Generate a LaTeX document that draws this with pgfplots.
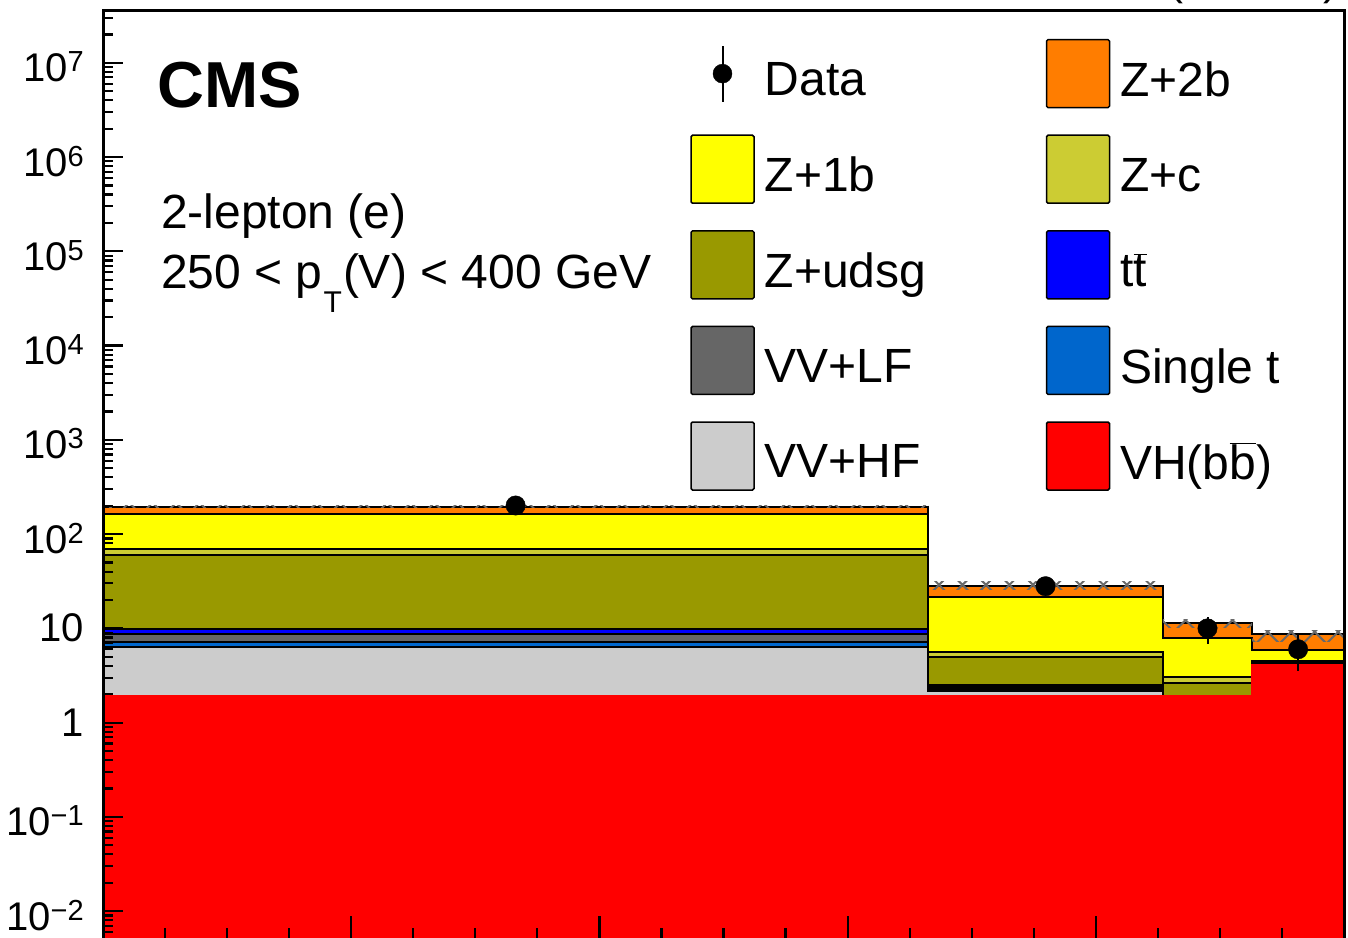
\documentclass[border=0pt]{standalone}
\usepackage{fontspec}
\setmainfont{Liberation Sans}
\usepackage{pgfplots}
\pgfplotsset{compat=1.18}
\usetikzlibrary{patterns.meta}

\definecolor{czbb}{RGB}{255,125,0}
\definecolor{czb}{RGB}{255,255,0}
\definecolor{czc}{RGB}{204,204,51}
\definecolor{czl}{RGB}{153,153,0}
\definecolor{ctt}{RGB}{0,0,255}
\definecolor{cst}{RGB}{0,102,204}
\definecolor{cvvlf}{RGB}{102,102,102}
\definecolor{cvvhf}{RGB}{204,204,204}
\definecolor{cvh}{RGB}{255,0,0}
\definecolor{cunc}{RGB}{105,105,105}

\newcommand{\ovl}[1]{\ensuremath{\overline{\hbox{#1}}}}
\newcommand{\pw}[1]{\raisebox{-5.5pt}{10\raisebox{10pt}{\fontsize{29}{29}\selectfont #1}}}
\newcommand{\lt}[1]{\makebox[271pt][l]{#1}}

\pgfplotsset{
  boxleg/.style={legend image code/.code={%
    \draw[fill=#1, draw=black, line width=1.5pt, rounded corners=1.5pt]
      (0pt,-27.9pt) rectangle (63pt,40.1pt);}},
  datleg/.style={legend image code/.code={%
    \draw[line width=2pt] (31.5pt,-21.9pt) -- (31.5pt,34.1pt);
    \fill (31.5pt,6.1pt) circle[radius=9.5pt];}},
  stk/.style={const plot, fill=#1, draw=black, line width=2pt, forget plot},
  unc/.style={draw=none, forget plot, pattern color=cunc,
    pattern={Hatch[angle=45,distance=16.6pt,line width=2pt]}},
}

\begin{document}
\begin{tikzpicture}
\begin{axis}[
  at={(103pt,-939.5pt)}, anchor=south west,
  width=1241pt, height=929.5pt, scale only axis,
  xmin=0, xmax=1, ymode=log, ymin=0.005, ymax=3.63e7,
  axis on top,
  axis line style={line width=3pt},
  tick style={black, line width=2.2pt},
  tick align=inside, tick pos=left,
  major tick length=20pt, minor tick length=10pt,
  xtick style={/pgfplots/major tick length=23.5pt, /pgfplots/minor tick length=11.5pt},
  xtick={0,0.2,0.4,0.6,0.8,1},
  minor xtick={0.05,0.1,0.15,0.25,0.3,0.35,0.45,0.5,0.55,0.65,0.7,0.75,0.85,0.9,0.95},
  xticklabels={},
  ytick={1e-2,1e-1,1,10,100,1000,1e4,1e5,1e6,1e7},
  yticklabels={\pw{−2},\pw{−1},1\hspace{-9pt},10,\pw{2},\pw{3},\pw{4},\pw{5},\pw{6},\pw{7}},
  minor ytick={5e-3,6e-3,7e-3,8e-3,9e-3,
    2e-2,3e-2,4e-2,5e-2,6e-2,7e-2,8e-2,9e-2,
    0.2,0.3,0.4,0.5,0.6,0.7,0.8,0.9,
    2,3,4,5,6,7,8,9,
    20,30,40,50,60,70,80,90,
    200,300,400,500,600,700,800,900,
    2000,3000,4000,5000,6000,7000,8000,9000,
    2e4,3e4,4e4,5e4,6e4,7e4,8e4,9e4,
    2e5,3e5,4e5,5e5,6e5,7e5,8e5,9e5,
    2e6,3e6,4e6,5e6,6e6,7e6,8e6,9e6,
    2e7,3e7},
  yticklabel style={font=\fontsize{40}{40}\selectfont, anchor=base east,
    inner sep=0pt, xshift=-19pt, yshift=-13.5pt},
  legend columns=2,
  legend cell align=left,
  legend style={at={(axis description cs:0.4732,0.96894)}, anchor=north west,
    draw=none, fill=none, inner sep=0pt, outer sep=0pt,
    row sep=26.1pt, column sep=10pt,
    font=\fontsize{48}{48}\selectfont,
    nodes={inner sep=0pt}},
]

% legend (row by row, two columns)
\addlegendimage{datleg}\addlegendentry{\lt{Data}}
\addlegendimage{boxleg=czbb}\addlegendentry{\lt{Z+2b}}
\addlegendimage{boxleg=czb}\addlegendentry{\lt{Z+1b}}
\addlegendimage{boxleg=czc}\addlegendentry{\lt{Z+c}}
\addlegendimage{boxleg=czl}\addlegendentry{\lt{Z+udsg}}
\addlegendimage{boxleg=ctt}\addlegendentry{\lt{t\ovl{t}}}
\addlegendimage{boxleg=cvvlf}\addlegendentry{\lt{VV+LF}}
\addlegendimage{boxleg=cst}\addlegendentry{\lt{Single t}}
\addlegendimage{boxleg=cvvhf}\addlegendentry{\lt{VV+HF}}
\addlegendimage{boxleg=cvh}\addlegendentry{\lt{VH(b\ovl{b})}}

% stacked histograms, cumulative, drawn from the top down
\addplot[stk=czbb] coordinates {(0,0.004) (0,196) (0.665,28.3) (0.854,11.4) (0.926,8.8) (1,8.8) (1,0.004)} -- cycle;
\addplot[stk=czb] coordinates {(0,0.004) (0,165) (0.665,21.3) (0.854,7.84) (0.926,5.95) (1,5.95) (1,0.004)} -- cycle;
\addplot[stk=czc] coordinates {(0,0.004) (0,69.0) (0.665,5.64) (0.854,3.02) (0.926,4.50) (1,4.50) (1,0.004)} -- cycle;
\addplot[stk=czl] coordinates {(0,0.004) (0,60.0) (0.665,4.99) (0.854,2.63) (0.926,4.30) (1,4.30) (1,0.004)} -- cycle;
\addplot[stk=ctt] coordinates {(0,0.004) (0,9.77) (0.665,2.48) (0.854,1.90) (0.926,4.15) (1,4.15) (1,0.004)} -- cycle;
\addplot[stk=cvvlf] coordinates {(0,0.004) (0,8.71) (0.665,2.36) (0.854,1.90) (0.926,4.10) (1,4.10) (1,0.004)} -- cycle;
\addplot[stk=cst] coordinates {(0,0.004) (0,7.21) (0.665,2.27) (0.854,1.90) (0.926,4.08) (1,4.08) (1,0.004)} -- cycle;
\addplot[stk=cvvhf] coordinates {(0,0.004) (0,6.29) (0.665,2.14) (0.854,1.90) (0.926,4.08) (1,4.08) (1,0.004)} -- cycle;
\addplot[stk=cvh, draw=cvh] coordinates {(0,0.004) (0,1.90) (0.665,1.90) (0.854,1.90) (0.926,4.08) (1,4.08) (1,0.004)} -- cycle;

% uncertainty band
\addplot[unc] coordinates {(0,190) (0.665,190) (0.665,203) (0,203)} -- cycle;
\addplot[unc] coordinates {(0.665,25.6) (0.854,25.6) (0.854,31.2) (0.665,31.2)} -- cycle;
\addplot[unc] coordinates {(0.854,10.26) (0.926,10.26) (0.926,12.47) (0.854,12.47)} -- cycle;
\addplot[unc] coordinates {(0.926,7.21) (1,7.21) (1,9.6) (0.926,9.6)} -- cycle;

% data
\addplot[forget plot, only marks, mark=*, mark size=9.7pt, black,
  error bars/.cd, y dir=both, y explicit, error mark=none,
  error bar style={line width=2pt}]
  coordinates {
  (0.3325,201) +- (0,14.2)
  (0.7595,28) +- (0,5.3)
  (0.89,10) +- (0,3.16)
  (0.963,6) +- (0,2.45)
  };
\end{axis}

\node[anchor=base west, inner sep=0pt, font=\fontsize{65}{65}\selectfont\bfseries]
  at (157pt,-107.5pt) {CMS};
\node[anchor=base west, inner sep=0pt, font=\fontsize{48}{48}\selectfont]
  at (161pt,-228.3pt) {2-lepton (e)};
\node[anchor=base west, inner sep=0pt, font=\fontsize{48}{48}\selectfont]
  at (161pt,-288.3pt) {250 < p\hspace{1pt}\raisebox{-24.5pt}{\fontsize{30}{30}\selectfont T}\hspace{1pt}(V) < 400 GeV};
\node[anchor=base east, inner sep=0pt, font=\fontsize{45}{45}\selectfont]
  at (1339pt,6pt) {35.9 fb\textsuperscript{−1} (13 TeV)};

\pgfresetboundingbox
\path[use as bounding box] (0pt,0pt) rectangle (1348pt,-937pt);
\end{tikzpicture}
\end{document}
